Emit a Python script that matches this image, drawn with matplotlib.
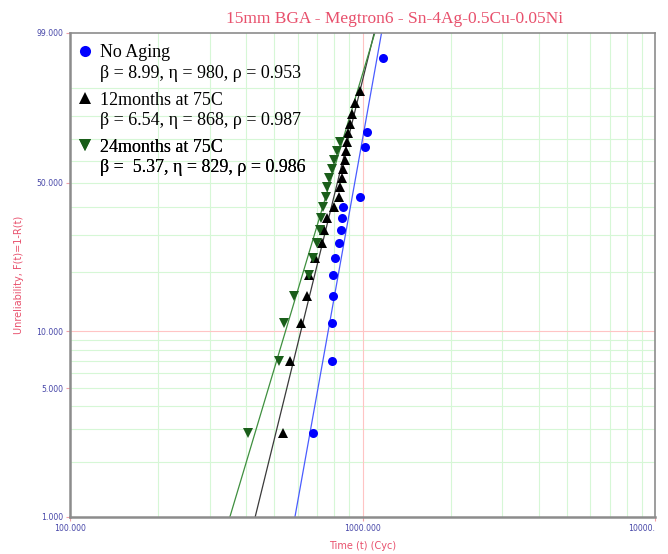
import numpy as np
import matplotlib.pyplot as plt
from matplotlib.lines import Line2D
from matplotlib.ticker import FixedLocator, NullFormatter

title = "15mm BGA - Megtron6 - Sn-4Ag-0.5Cu-0.05Ni"

# failure times (cycles) and unreliability (%)
t_noage = [679, 787, 789, 790, 795, 805, 831, 843, 852, 860, 982, 1020, 1034, 1172]
f_noage = [2.87, 6.97, 11.07, 15.16, 19.26, 23.36, 27.46, 31.56, 35.66, 39.75,
           43.85, 66.3, 73.1, 96.5]

t_12m = [536, 564, 616, 645, 655, 688, 725, 739, 754, 800, 834, 838, 849, 860,
         871, 878, 883, 894, 906, 918, 942, 980]
f_12m = [2.87, 6.97, 11.07, 15.16, 19.26, 23.36, 27.46, 31.56, 35.66, 39.75,
         43.85, 47.95, 52.05, 56.15, 60.25, 64.34, 68.44, 72.54, 76.64, 80.74,
         84.84, 88.93]

t_24m = [405, 520, 538, 585, 656, 677, 697, 716, 721, 735, 748, 754, 770, 785,
         801, 816, 838]
f_24m = [2.87, 6.97, 11.07, 15.16, 19.26, 23.36, 27.46, 31.56, 35.66, 39.75,
         43.85, 47.95, 52.05, 56.15, 60.25, 64.34, 68.44]

# weibull fit parameters (beta, eta, rho) from the legend
names = ["No Aging", "12months at 75C", "24months at 75C"]
betas = [8.99, 6.54, 5.37]
etas = [980, 868, 829]
rhos = [0.953, 0.987, 0.986]

y_major = [1, 5, 10, 50, 99]
y_labels = ["1.000", "5.000", "10.000", "50.000", "99.000"]
y_minor = [2, 3, 4, 5, 6, 7, 8, 9, 20, 30, 40, 50, 60, 70, 80, 90]
x_major = [100, 1000, 10000]
x_labels = ["100.000", "1000.000", "10000."]
x_minor = [200, 300, 400, 500, 600, 700, 800, 900,
           2000, 3000, 4000, 5000, 6000, 7000, 8000, 9000]

pink = "#e8506c"
tickblue = "#4646a8"


def fwd(p):
    p = np.clip(np.asarray(p, dtype=float), 1e-9, 100 - 1e-9)
    return np.log(-np.log(1 - p / 100))


def inv(y):
    return 100 * (1 - np.exp(-np.exp(y)))


fig = plt.figure(figsize=(6.68, 5.54), dpi=100)
ax = fig.add_axes([70 / 668, 37 / 554, 585 / 668, 484 / 554])
ax.set_xscale("log")
ax.set_yscale("function", functions=(fwd, inv))
ax.set_xlim(100, 10000)
ax.set_ylim(1, 99)

# grid
ax.xaxis.remove_overlapping_locs = False
ax.yaxis.remove_overlapping_locs = False
ax.xaxis.set_minor_locator(FixedLocator(x_minor))
ax.yaxis.set_minor_locator(FixedLocator(y_minor))
ax.xaxis.set_minor_formatter(NullFormatter())
ax.yaxis.set_minor_formatter(NullFormatter())
ax.grid(True, which="minor", color="#d6f7d6", lw=0.8)
ax.axhline(10, color="#ffc4c4", lw=0.8, zorder=0.6)
ax.axvline(1000, color="#ffc4c4", lw=0.8, zorder=0.6)
ax.set_axisbelow(True)

ax.set_xticks(x_major)
ax.set_xticklabels(x_labels)
ax.set_yticks(y_major)
ax.set_yticklabels(y_labels)
ax.xaxis.get_majorticklabels()[-1].set_horizontalalignment("right")
ax.tick_params(which="major", length=3, width=0.8, color="#f0a0a8",
               labelsize=5.6, labelcolor=tickblue, pad=2)
ax.tick_params(which="minor", length=0)

for s in ["left", "bottom"]:
    ax.spines[s].set_color("#8c8c8c")
    ax.spines[s].set_linewidth(1.8)
for s in ["top", "right"]:
    ax.spines[s].set_color("#8c8c8c")
    ax.spines[s].set_linewidth(1.2)

# fitted lines
tt = np.geomspace(100, 10000, 600)
line_cols = ["#4a5cff", "#3a3a3a", "#3f8f3f"]
for b, e, c in zip(betas, etas, line_cols):
    ax.plot(tt, 100 * (1 - np.exp(-(tt / e) ** b)), color=c, lw=0.9, zorder=2)

# data points
ax.plot(t_noage, f_noage, ls="", marker="o", ms=6.5, color="#0000ff", mew=0, zorder=3)
ax.plot(t_12m, f_12m, ls="", marker="^", ms=6.5, color="#000000", mew=0, zorder=3)
ax.plot(t_24m, f_24m, ls="", marker="v", ms=6.5, color="#1a5e1a", mew=0, zorder=3)

# legend, one block per series
markers = [("o", "#0000ff"), ("^", "#000000"), ("v", "#1a5e1a")]
tops = [0.977, 0.879, 0.782]
for name, b, e, r, (m, c), top in zip(names, betas, etas, rhos, markers, tops):
    h1 = Line2D([], [], ls="", marker=m, ms=8, color=c, mew=0)
    h2 = Line2D([], [], ls="", marker="")
    lab2 = "\u03b2 = %.2f, \u03b7 = %d, \u03c1 = %.3f" % (b, e, r)
    if name.startswith("24"):
        lab2 = "\u03b2 =  %.2f, \u03b7 = %d, \u03c1 = %.3f" % (b, e, r)
    leg = ax.legend([h1, h2], [name, lab2], loc="upper left",
                    bbox_to_anchor=(0.0108, top), borderaxespad=0, borderpad=0,
                    frameon=False, handlelength=0.95, handletextpad=0.38,
                    labelspacing=0.19,
                    prop={"family": "Liberation Serif", "size": 13})
    ax.add_artist(leg)

ax.set_xlabel("Time (t) (Cyc)", color=pink, fontsize=7, labelpad=6)
ax.set_ylabel("Unreliability, F(t)=1-R(t)", color=pink, fontsize=7, labelpad=9)
fig.text(395 / 668, 1 - 19 / 554, title, ha="center", va="center", color=pink,
         fontsize=12.5, family="Liberation Serif")

fig.savefig("out.png", dpi=100)
